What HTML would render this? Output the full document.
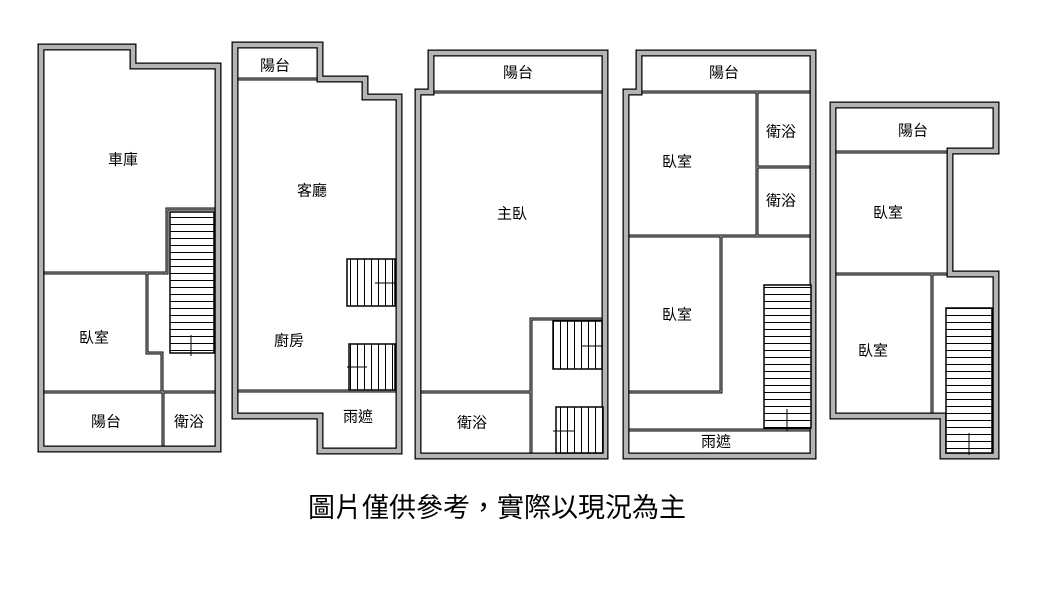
<!DOCTYPE html>
<html><head><meta charset="utf-8"><style>
html,body{margin:0;padding:0;background:#fff;}
svg{display:block}
text{font-family:"Liberation Sans","Noto Sans CJK TC",sans-serif;font-size:15px;fill:#000;text-anchor:middle;dominant-baseline:central}
.ow{fill:none;stroke:#000;stroke-width:7;stroke-linejoin:miter}
.og{fill:none;stroke:#b4b4b4;stroke-width:4.5;stroke-linejoin:miter}
.iw{stroke:#000;stroke-width:3;fill:none}
.ig{stroke:#b4b4b4;stroke-width:1;fill:none}
.st{stroke:#000;stroke-width:1.5;fill:none}
</style></head><body>
<svg width="1037" height="606" viewBox="0 0 1037 606" xmlns="http://www.w3.org/2000/svg">
<defs>
<pattern id="hz" width="10" height="7" patternUnits="userSpaceOnUse"><rect width="10" height="7" fill="#fff"/><line x1="0" y1="0.5" x2="10" y2="0.5" stroke="#000" stroke-width="1"/></pattern>
<pattern id="vt" width="7" height="10" patternUnits="userSpaceOnUse"><rect width="7" height="10" fill="#fff"/><line x1="0.5" y1="0" x2="0.5" y2="10" stroke="#000" stroke-width="1"/></pattern>
</defs>

<g class="iw"><path d="M41 273H167V209H218 M147 273V353H162V392 M41 392H218 M163 392V449"/><path d="M235 79H320 M235 391H399"/><path d="M431 92H605 M418 392H531 M531 456V319H605"/><path d="M639 92H813 M757 92V236 M757 167H813 M626 236H813 M721 236V392H626 M626 430H813"/><path d="M833 152H950 M833 274H950 M932 274V416"/></g>
<g class="ig"><path d="M41 273H167V209H218 M147 273V353H162V392 M41 392H218 M163 392V449"/><path d="M235 79H320 M235 391H399"/><path d="M431 92H605 M418 392H531 M531 456V319H605"/><path d="M639 92H813 M757 92V236 M757 167H813 M626 236H813 M721 236V392H626 M626 430H813"/><path d="M833 152H950 M833 274H950 M932 274V416"/></g>

<g class="ow">
<polygon points="41,47 133,47 133,66 218,66 218,449 41,449"/>
<polygon points="235,45 320,45 320,79 365,79 365,97 399,97 399,451 320,451 320,416 235,416"/>
<polygon points="418,92 431,92 431,53 605,53 605,456 418,456"/>
<polygon points="626,92 639,92 639,53 813,53 813,456 626,456"/>
<polygon points="833,105 996,105 996,151 950,151 950,274 996,274 996,456 943,456 943,416 833,416"/>
</g>
<g class="og">
<polygon points="41,47 133,47 133,66 218,66 218,449 41,449"/>
<polygon points="235,45 320,45 320,79 365,79 365,97 399,97 399,451 320,451 320,416 235,416"/>
<polygon points="418,92 431,92 431,53 605,53 605,456 418,456"/>
<polygon points="626,92 639,92 639,53 813,53 813,456 626,456"/>
<polygon points="833,105 996,105 996,151 950,151 950,274 996,274 996,456 943,456 943,416 833,416"/>
</g>

<g class="st">
<rect x="170" y="212" width="44" height="141" fill="url(#hz)"/>
<line x1="191" y1="335" x2="191" y2="356" stroke-width="1"/>
<rect x="347" y="259" width="48" height="47" fill="url(#vt)"/>
<line x1="375" y1="283" x2="395" y2="283" stroke-width="1"/>
<rect x="349" y="344" width="46" height="46" fill="url(#vt)"/>
<line x1="347" y1="367" x2="367" y2="367" stroke-width="1"/>
<rect x="553" y="321" width="49" height="48" fill="url(#vt)"/>
<line x1="581" y1="346" x2="603" y2="346" stroke-width="1"/>
<rect x="556" y="407" width="47" height="46" fill="url(#vt)"/>
<line x1="553" y1="431" x2="575" y2="431" stroke-width="1"/>
<rect x="764" y="285" width="47" height="143" fill="url(#hz)"/>
<line x1="787" y1="409" x2="787" y2="431" stroke-width="1"/>
<rect x="946" y="308" width="46" height="145" fill="url(#hz)"/>
<line x1="969" y1="433" x2="969" y2="455" stroke-width="1"/>
</g>

<text x="123" y="160">車庫</text>
<text x="94" y="338">臥室</text>
<text x="106" y="422">陽台</text>
<text x="189" y="422">衛浴</text>
<text x="275" y="66">陽台</text>
<text x="312" y="191">客廳</text>
<text x="289" y="341">廚房</text>
<text x="358" y="417">雨遮</text>
<text x="518" y="73">陽台</text>
<text x="512" y="214">主臥</text>
<text x="472" y="423">衛浴</text>
<text x="724" y="73">陽台</text>
<text x="781" y="132">衛浴</text>
<text x="781" y="201">衛浴</text>
<text x="677" y="162">臥室</text>
<text x="677" y="315">臥室</text>
<text x="716" y="442">雨遮</text>
<text x="913" y="131">陽台</text>
<text x="888" y="213">臥室</text>
<text x="873" y="351">臥室</text>
<text x="497" y="508" style="font-size:27px">圖片僅供參考，實際以現況為主</text>
</svg>
</body></html>
